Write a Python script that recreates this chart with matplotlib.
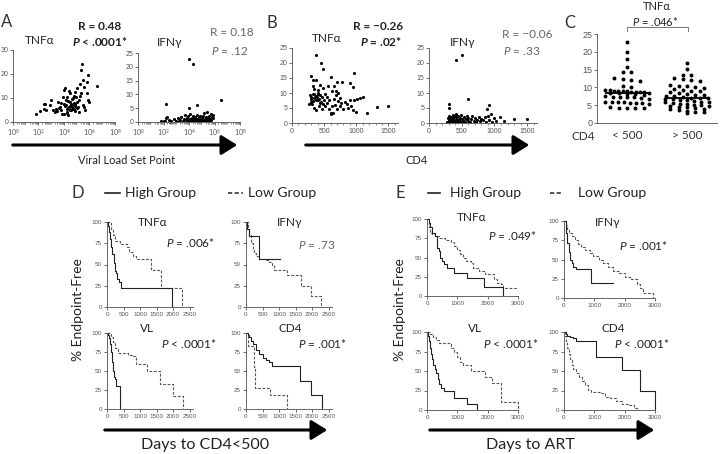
"""
Cytokine scatter / survival panel figure (A-E), rebuilt with matplotlib.
"""
#%% imports

import matplotlib
matplotlib.use("Agg")
import matplotlib.pyplot as plt
import numpy as np
from matplotlib.lines import Line2D
from matplotlib.patches import FancyArrowPatch
from matplotlib.ticker import LogLocator, MultipleLocator, NullFormatter

plt.rcParams['font.family'] = ['Lato', 'DejaVu Sans']
plt.rcParams['mathtext.fontset'] = 'custom'
plt.rcParams['mathtext.rm'] = 'Lato'
plt.rcParams['mathtext.it'] = 'Lato:italic'
plt.rcParams['mathtext.bf'] = 'Lato:bold'
plt.rcParams['mathtext.bfit'] = 'Lato:bold:italic'

#%% data - panel A (log10 viral load set point vs % cytokine)

a_tnf = [(1.78, 3.2), (2.12, 4.6), (2.4, 7.5), (2.45, 5.6), (2.5, 7.7), (2.58, 5.2),
         (2.9, 7.0), (2.97, 9.1), (3.15, 4.9), (3.28, 4.2), (3.4, 5.6), (3.45, 4.5),
         (3.54, 8.4), (3.6, 6.0), (3.67, 6.3), (3.75, 8.0), (3.8, 5.0), (3.85, 3.5),
         (3.93, 10.5), (3.98, 13.2), (4.0, 7.5), (4.03, 3.2), (4.06, 14.0), (4.1, 6.5),
         (4.13, 7.0), (4.15, 9.2), (4.2, 5.6), (4.2, 10.5), (4.25, 3.8), (4.26, 4.2),
         (4.3, 2.8), (4.3, 6.0), (4.35, 8.8), (4.4, 6.3), (4.4, 12.8), (4.45, 8.4),
         (4.45, 5.2), (4.5, 11.9), (4.5, 6.8), (4.55, 7.5), (4.57, 4.9), (4.6, 6.2),
         (4.65, 7.0), (4.65, 9.5), (4.7, 9.8), (4.7, 5.5), (4.75, 8.0), (4.77, 5.6),
         (4.8, 10.8), (4.83, 12.5), (4.85, 6.6), (4.9, 7.7), (4.9, 4.5), (4.96, 10.5),
         (5.0, 14.0), (5.0, 8.5), (5.05, 6.0), (5.1, 6.3), (5.14, 4.2), (5.2, 9.0),
         (5.22, 16.0), (5.22, 11.0), (5.3, 11.9), (5.35, 21.6), (5.4, 24.0), (5.47, 7.0),
         (5.5, 17.4), (5.55, 6.3), (5.6, 14.6), (5.67, 4.9), (5.78, 11.9), (5.8, 16.7),
         (5.87, 19.5), (5.9, 9.0), (6.0, 8.4), (6.56, 15.1)]

a_ifn = [(4.0, 22.7), (4.3, 21.0), (6.5, 8.1), (2.2, 6.4), (4.0, 4.9), (4.6, 6.3),
         (1.8, 0.3), (2.0, 0.5), (2.1, 0.2), (2.2, 1.5), (2.3, 1.9), (2.4, 0.8),
         (2.6, 0.3), (2.8, 1.0), (3.0, 0.5), (3.1, 1.3), (3.2, 0.2), (3.3, 0.9),
         (3.4, 1.8), (3.5, 0.4), (3.6, 1.2), (3.7, 2.5), (3.8, 0.6), (3.85, 1.5),
         (3.9, 0.3), (3.95, 2.0), (4.0, 0.8), (4.05, 1.1), (4.1, 2.8), (4.15, 0.4),
         (4.2, 1.6), (4.25, 0.9), (4.3, 2.2), (4.35, 0.2), (4.4, 1.3), (4.45, 0.7),
         (4.5, 1.9), (4.55, 0.5), (4.6, 1.2), (4.65, 2.6), (4.7, 0.3), (4.75, 1.0),
         (4.8, 1.7), (4.85, 0.6), (4.9, 2.3), (4.95, 0.9), (5.0, 1.4), (5.05, 0.4),
         (5.1, 2.0), (5.15, 0.8), (5.2, 3.2), (5.25, 1.1), (5.3, 0.5), (5.35, 1.8),
         (5.4, 3.5), (5.45, 0.9), (5.5, 1.5), (5.55, 0.3), (5.6, 2.1), (5.65, 1.0),
         (5.7, 2.8), (5.75, 0.6), (5.8, 1.8), (5.85, 2.5), (5.9, 1.3), (2.5, 0.1)]

#%% data - panel B (CD4 count vs % cytokine)

b_tnf = [(380, 22.7), (450, 20.0), (490, 18.0), (300, 15.8), (960, 16.8), (330, 14.2),
         (370, 14.2), (600, 15.2), (780, 13.6), (700, 13.5), (900, 13.4), (320, 12.4),
         (430, 12.8), (560, 12.3), (660, 12.2), (950, 12.0), (350, 11.4), (400, 11.0),
         (480, 11.5), (620, 10.5), (680, 10.8), (720, 10.0), (280, 9.2), (300, 8.8),
         (320, 9.5), (340, 8.2), (350, 9.8), (360, 8.5), (370, 7.8), (380, 9.0),
         (390, 8.6), (400, 7.5), (410, 10.0), (420, 8.0), (430, 6.5), (440, 9.2),
         (450, 7.0), (470, 8.5), (480, 6.2), (500, 7.5), (510, 9.6), (520, 5.5),
         (540, 8.8), (550, 6.8), (570, 4.8), (580, 7.6), (600, 3.0), (610, 3.5),
         (620, 5.8), (640, 3.2), (650, 8.0), (670, 6.0), (690, 9.2), (700, 4.5),
         (720, 7.2), (740, 5.5), (750, 8.2), (770, 6.5), (800, 4.6), (820, 7.0),
         (850, 6.2), (870, 5.0), (900, 7.8), (920, 5.6), (950, 4.2), (970, 7.5),
         (1000, 3.7), (1010, 7.9), (1060, 8.4), (1100, 8.5), (1160, 3.5), (1330, 5.4),
         (1500, 5.6), (260, 6.2), (290, 7.0), (310, 6.4), (330, 7.2), (350, 5.0),
         (380, 4.2), (420, 5.6), (460, 4.6), (300, 8.0), (400, 9.6)]

b_ifn = [(420, 21.0), (510, 22.8), (600, 8.1), (300, 6.4), (310, 4.9), (920, 6.1),
         (880, 4.8), (280, 0.5), (290, 1.8), (300, 1.0), (305, 2.5), (310, 0.3),
         (320, 1.4), (330, 0.8), (340, 2.1), (345, 0.4), (350, 1.2), (360, 2.8),
         (365, 0.6), (370, 1.6), (380, 0.2), (385, 2.4), (390, 1.0), (400, 0.5),
         (405, 1.9), (410, 2.9), (420, 0.8), (430, 1.5), (440, 0.3), (450, 2.2),
         (460, 1.1), (470, 0.6), (480, 1.8), (490, 2.6), (500, 0.4), (510, 1.3),
         (520, 0.9), (530, 2.0), (545, 0.5), (560, 1.5), (575, 2.4), (590, 0.7),
         (600, 1.7), (620, 0.3), (640, 1.2), (660, 2.3), (680, 0.8), (700, 1.6),
         (720, 0.4), (740, 1.1), (760, 2.0), (780, 0.6), (800, 1.4), (830, 0.9),
         (850, 1.9), (870, 0.4), (900, 2.2), (920, 1.0), (950, 2.9), (970, 0.5),
         (990, 1.6), (1030, 0.6), (1080, 1.9), (1150, 0.8), (1300, 1.3), (1500, 1.3)]

#%% data - panel C (TNF by CD4 group)

c_groups = ['< 500', '> 500']
c_low = [22.7, 20.0, 18.0, 15.8, 14.4, 14.4, 12.6, 12.4, 12.1, 11.9, 10.3, 10.1,
         9.3, 9.2, 9.1, 9.0, 8.9, 8.9, 8.8, 8.7, 8.6, 8.6, 8.5, 8.4, 8.3, 8.2, 8.1,
         8.0, 7.5, 7.4, 7.3, 7.3, 7.2, 6.9, 6.8, 6.0, 6.0, 5.9, 5.8, 5.6, 5.5, 5.5,
         5.4, 4.4, 4.3, 4.2, 4.2, 4.1]
c_high = [16.8, 15.1, 13.6, 13.4, 12.6, 12.3, 12.1, 11.9, 10.6, 10.4, 10.3, 10.0,
          9.9, 9.6, 9.2, 9.0, 8.9, 8.7, 8.3, 8.1, 7.9, 7.8, 7.7, 7.5, 7.3, 7.1, 7.0,
          6.9, 6.8, 6.7, 6.6, 6.4, 6.2, 6.0, 5.9, 5.8, 5.6, 5.4, 5.2, 5.1, 5.0, 4.9,
          4.7, 4.6, 4.4, 4.2, 4.0, 3.8, 3.6, 3.4, 3.2, 3.0, 2.8]

#%% data - panels D/E (Kaplan-Meier step curves: days, % endpoint-free)

d_tnf_hi = ([0, 30, 60, 100, 130, 160, 200, 230, 260, 300, 350, 420, 1980],
            [100, 95, 88, 80, 70, 62, 52, 42, 40, 33, 30, 22, 0])
d_tnf_lo = ([0, 130, 170, 250, 380, 600, 680, 800, 880, 1330, 1640, 2260],
            [100, 92, 85, 78, 74, 70, 65, 60, 57, 44, 22, 0])
d_ifn_hi = ([0, 40, 80, 380, 1030], [100, 92, 84, 57, 57])
d_ifn_lo = ([0, 50, 100, 150, 200, 250, 300, 400, 500, 600, 700, 800, 850, 1230, 1650, 1970, 2280],
            [100, 92, 85, 75, 68, 63, 60, 57, 56, 55, 53, 50, 43, 38, 25, 13, 0])
d_vl_hi = ([0, 30, 60, 90, 120, 150, 180, 210, 250, 280, 400],
           [100, 97, 93, 85, 75, 62, 50, 42, 40, 30, 0])
d_vl_lo = ([0, 130, 180, 230, 330, 630, 780, 880, 1200, 1600, 2000, 2300],
           [100, 95, 88, 80, 74, 71, 70, 59, 50, 33, 17, 0])
d_cd4_hi = ([0, 50, 100, 150, 200, 300, 400, 500, 600, 700, 800, 1630, 1950, 2300],
            [100, 98, 95, 90, 85, 78, 72, 67, 65, 62, 57, 37, 18, 0])
d_cd4_lo = ([0, 50, 230, 280, 730, 1250], [100, 83, 55, 27, 18, 0])

e_tnf_hi = ([0, 50, 100, 150, 250, 330, 400, 440, 500, 560, 670, 890, 1330, 1890, 2500],
            [100, 95, 90, 82, 78, 62, 58, 50, 45, 42, 37, 30, 23, 12, 0])
e_tnf_lo = ([0, 50, 100, 150, 250, 400, 600, 800, 900, 1000, 1100, 1200, 1300, 1450, 1500,
             1700, 1900, 2200, 2300, 2450, 2500, 3000],
            [100, 90, 82, 80, 78, 75, 73, 70, 65, 60, 55, 50, 45, 43, 37, 32, 28, 22, 17, 15,
             10, 10])
e_ifn_hi = ([0, 50, 100, 150, 200, 250, 300, 400, 880, 1600],
            [100, 85, 72, 60, 50, 45, 40, 38, 19, 19])
e_ifn_lo = ([0, 50, 100, 150, 250, 350, 450, 550, 700, 850, 950, 1150, 1300, 1450, 1600,
             1800, 2000, 2200, 2400, 2500, 2600, 2950],
            [100, 95, 90, 85, 80, 75, 70, 66, 62, 58, 55, 50, 45, 40, 35, 32, 27, 25, 18, 13,
             7, 0])
e_vl_hi = ([0, 30, 60, 100, 130, 170, 200, 250, 300, 350, 400, 450, 550, 890, 1330, 1650],
           [100, 95, 88, 80, 72, 65, 58, 52, 47, 40, 33, 28, 24, 16, 8, 0])
e_vl_lo = ([0, 100, 200, 300, 400, 800, 900, 1000, 1100, 1200, 1450, 1900, 2150, 2450, 3000],
           [100, 97, 93, 90, 86, 80, 75, 68, 62, 58, 50, 42, 35, 10, 0])
e_cd4_hi = ([0, 50, 100, 200, 300, 400, 1050, 1900, 2500, 3000],
            [100, 97, 95, 94, 92, 88, 68, 51, 25, 0])
e_cd4_lo = ([0, 30, 60, 100, 150, 200, 250, 300, 400, 500, 600, 700, 800, 900, 1200, 1350,
             1500, 1700, 1900, 2100, 2300, 2450],
            [100, 95, 88, 80, 72, 65, 58, 53, 48, 42, 37, 32, 26, 23, 22, 17, 15, 12, 8, 6,
             3, 0])

#%% helpers

W, H = 720, 454
fig = plt.figure(figsize=(W / 100, H / 100), dpi=100)
fig.patch.set_facecolor('white')


def px_axes(x0, y0, x1, y1):
    # axes box from pixel corners (top-left origin)
    return fig.add_axes([x0 / W, 1 - y1 / H, (x1 - x0) / W, (y1 - y0) / H])


def style(ax, size=5):
    for s in ['top', 'right']:
        ax.spines[s].set_visible(False)
    for s in ['left', 'bottom']:
        ax.spines[s].set_color('#666666')
        ax.spines[s].set_linewidth(0.7)
    ax.tick_params(labelsize=size, colors='#555555', length=2, width=0.6, pad=1.5,
                   labelfontfamily='Liberation Sans')
    ax.tick_params(which='minor', length=1.2, width=0.5, colors='#666666')
    ax.patch.set_alpha(0)


def txt(x, y, s, **kw):
    kw.setdefault('ha', 'center')
    kw.setdefault('va', 'center')
    kw.setdefault('color', '#222222')
    fig.text(x / W, 1 - y / H, s, **kw)


def arrow(x0, x1, y):
    a = FancyArrowPatch((x0 / W, 1 - y / H), (x1 / W, 1 - y / H), transform=fig.transFigure,
                        arrowstyle='-|>,head_length=0.8,head_width=0.5', mutation_scale=12,
                        lw=2.2, color='black')
    fig.add_artist(a)


def swarm(vals, center, row_h=0.9, dx=0.14, half=0.36):
    # group close values into rows and spread each row sideways
    v = np.sort(np.asarray(vals))[::-1]
    rows, cur = [], [v[0]]
    for val in v[1:]:
        if cur[0] - val > row_h:
            rows.append(cur)
            cur = [val]
        else:
            cur.append(val)
    rows.append(cur)
    xs, ys = [], []
    for r in rows:
        n = len(r)
        step = dx if n < 2 else min(dx, 2 * half / (n - 1))
        xs += list(center + (np.arange(n) - (n - 1) / 2) * step)
        ys += r
    return np.array(xs), np.array(ys)


def km(ax, curve, dashed):
    t, s = curve
    ax.step(t, s, where='post', lw=0.8, clip_on=False,
            color='#555555' if dashed else '#222222',
            ls=(0, (2.5, 1.5)) if dashed else '-')


GRAY = '#666666'

#%% panel A

for pts, box, ymax, ystep in [(a_tnf, (13, 50, 115, 122), 30, 10),
                              (a_ifn, (138, 53, 240, 122), 25, 5)]:
    ax = px_axes(*box)
    p = np.array(pts)
    ax.scatter(10 ** p[:, 0], p[:, 1], s=5, c='k', lw=0, clip_on=False)
    ax.set_xscale('log')
    ax.set_xlim(1, 1e8)
    ax.set_ylim(0, ymax)
    ax.set_xticks([1, 1e2, 1e4, 1e6, 1e8])
    ax.set_xticklabels([r'$10^{0}$', r'$10^{2}$', r'$10^{4}$', r'$10^{6}$', r'$10^{8}$'])
    ax.xaxis.set_minor_locator(LogLocator(base=10, subs=np.arange(2, 10), numticks=20))
    ax.xaxis.set_minor_formatter(NullFormatter())
    ax.yaxis.set_major_locator(MultipleLocator(ystep))
    style(ax)

txt(7, 22, 'A', fontsize=12, color='#333333')
txt(40, 40, 'TNFα', fontsize=8.5)
txt(100, 27, 'R = 0.48', fontsize=8.5, fontweight='bold')
txt(100, 42, r'$\mathbfit{P}$ < .0001*', fontsize=8.5, fontweight='bold')
txt(170, 43, 'IFNγ', fontsize=8.5)
txt(232, 33, 'R = 0.18', fontsize=8.5, color=GRAY)
txt(230, 51, r'$P$ = .12', fontsize=8.5, color=GRAY)
arrow(10, 240, 145)
txt(127, 160, 'Viral Load Set Point', fontsize=8)

#%% panel B

for pts, box in [(b_tnf, (292, 48, 398, 123)), (b_ifn, (429, 48, 537, 123))]:
    ax = px_axes(*box)
    p = np.array(pts)
    ax.scatter(p[:, 0], p[:, 1], s=5, c='k', lw=0, clip_on=False)
    ax.set_xlim(0, 1650)
    ax.set_ylim(0, 25)
    ax.xaxis.set_major_locator(MultipleLocator(500))
    ax.xaxis.set_minor_locator(MultipleLocator(100))
    ax.yaxis.set_major_locator(MultipleLocator(5))
    style(ax)

txt(272, 23, 'B', fontsize=12, color='#333333')
txt(327, 38, 'TNFα', fontsize=8.5)
txt(378, 27, 'R = \u22120.26', fontsize=8.5, fontweight='bold')
txt(381, 42, r'$\mathbfit{P}$ = .02*', fontsize=8.5, fontweight='bold')
txt(463, 42, 'IFNγ', fontsize=8.5)
txt(527, 35, 'R = \u22120.06', fontsize=8.5, color=GRAY)
txt(522, 51, r'$P$ = .33', fontsize=8.5, color=GRAY)
arrow(303, 532, 145)
txt(417, 160, 'CD4', fontsize=8)

#%% panel C

ax = px_axes(597, 34, 717, 123)
for i, vals in enumerate([c_low, c_high]):
    xs, ys = swarm(vals, i)
    ax.scatter(xs, ys, s=8, c='k', lw=0, clip_on=False)
    ax.hlines(np.median(vals), i - 0.36, i + 0.36, color='k', lw=1.3)
ax.set_xlim(-0.5, 1.5)
ax.set_ylim(0, 25)
ax.yaxis.set_major_locator(MultipleLocator(5))
ax.set_xticks([0, 1])
style(ax, size=6.5)
ax.set_xticklabels(c_groups, fontsize=8.5, color='#333333', family='Lato')
ax.tick_params(axis='x', length=0, pad=5)

txt(570, 23, 'C', fontsize=12, color='#333333')
txt(657, 7, 'TNFα', fontsize=8)
txt(655, 21, r'$P$ = .046*', fontsize=8)
fig.add_artist(Line2D([627 / W, 627 / W, 688 / W, 688 / W],
                      [1 - 31 / H, 1 - 27 / H, 1 - 27 / H, 1 - 31 / H],
                      transform=fig.transFigure, color='#777777', lw=0.7))
txt(583, 137, 'CD4', fontsize=8.5, color='#333333')

#%% panels D and E (Kaplan-Meier)

km_panels = [
    (d_tnf_hi, d_tnf_lo, (107, 222, 193, 307), 2600, 500, 'TNFα', (153, 222), '.006*', True, (190, 242)),
    (d_ifn_hi, d_ifn_lo, (246, 222, 332, 307), 2600, 500, 'IFNγ', (290, 223), '.73', False, (317, 245)),
    (d_vl_hi, d_vl_lo, (107, 333, 193, 409), 2600, 500, 'VL', (147, 328), '< .0001*', True, (189, 343)),
    (d_cd4_hi, d_cd4_lo, (246, 333, 332, 409), 2600, 500, 'CD4', (290, 328), '.001*', True, (322, 343)),
    (e_tnf_hi, e_tnf_lo, (427, 219, 518, 296), 3000, 1000, 'TNFα', (472, 218), '.049*', True, (512, 235)),
    (e_ifn_hi, e_ifn_lo, (564, 221, 655, 298), 3000, 1000, 'IFNγ', (608, 223), '.001*', True, (643, 245)),
    (e_vl_hi, e_vl_lo, (427, 332, 518, 410), 3000, 1000, 'VL', (475, 328), '< .0001*', True, (511, 343)),
    (e_cd4_hi, e_cd4_lo, (564, 332, 655, 410), 3000, 1000, 'CD4', (613, 328), '< .0001*', True, (642, 343)),
]

for hi, lo, box, xmax, xstep, name, tpos, pval, sig, ppos in km_panels:
    ax = px_axes(*box)
    km(ax, lo, True)
    km(ax, hi, False)
    ax.set_xlim(0, xmax)
    ax.set_ylim(0, 100)
    ax.xaxis.set_major_locator(MultipleLocator(xstep))
    ax.yaxis.set_major_locator(MultipleLocator(25))
    style(ax, size=4.5)
    txt(tpos[0], tpos[1], name, fontsize=8.5)
    op = '' if pval.startswith('<') else '= '
    txt(ppos[0], ppos[1], r'$P$ ' + op + pval, fontsize=8.5,
        color='#222222' if sig else GRAY)

# panel letters, legends, axis labels
for letter, lx, x0, x1, tx0, tx1 in [('D', 78, 105, 120, 228, 243), ('E', 400, 428, 440, 550, 563)]:
    txt(lx, 193, letter, fontsize=12, color='#333333')
    fig.add_artist(Line2D([x0 / W, x1 / W], [1 - 193 / H] * 2, transform=fig.transFigure,
                          color='#222222', lw=1.2))
    fig.add_artist(Line2D([tx0 / W, tx1 / W], [1 - 193 / H] * 2, transform=fig.transFigure,
                          color='#333333', lw=1.2, ls=(0, (2.5, 1.5))))
    txt(x1 + 5 + (5 if letter == 'E' else 0), 193, 'High Group', fontsize=10, ha='left')
    txt(tx1 + 5 + (10 if letter == 'E' else 0), 193, 'Low Group', fontsize=10, ha='left')
    txt(lx, 310, '% Endpoint-Free', fontsize=10, rotation=90)

arrow(102, 330, 430)
arrow(427, 657, 430)
txt(205, 445, 'Days to CD4<500', fontsize=11.5)
txt(530, 445, 'Days to ART', fontsize=11.5)

#%% save

plt.savefig('out.png', dpi=100, facecolor='white')
